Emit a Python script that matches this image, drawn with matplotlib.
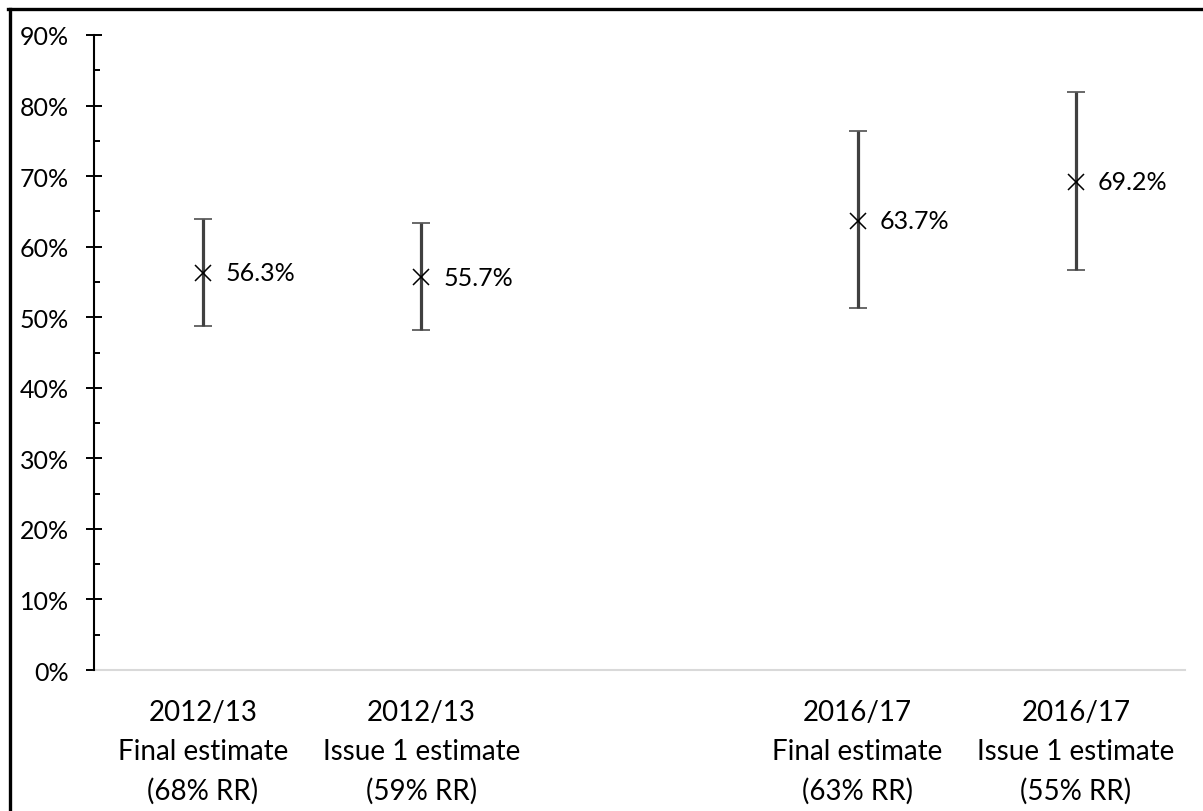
import numpy as np
import matplotlib
matplotlib.use("Agg")
import matplotlib.pyplot as plt
from matplotlib.lines import Line2D
from matplotlib.ticker import MultipleLocator, PercentFormatter

# Survey estimates with confidence intervals (empty slot separates the two years)
categories = [
    "2012/13\nFinal estimate\n(68% RR)",
    "2012/13\nIssue 1 estimate\n(59% RR)",
    "",
    "2016/17\nFinal estimate\n(63% RR)",
    "2016/17\nIssue 1 estimate\n(55% RR)",
]
estimate = [0.563, 0.557, np.nan, 0.637, 0.692]
lower = [0.488, 0.482, np.nan, 0.513, 0.567]
upper = [0.639, 0.634, np.nan, 0.764, 0.819]

plt.rcParams["font.family"] = ["Lato", "DejaVu Sans"]

fig = plt.figure(figsize=(12.03, 8.12), dpi=100)
ax = fig.add_axes([0.0781, 0.1736, 0.9069, 0.7821])

x = np.arange(len(categories))
est = np.array(estimate)
lo = np.array(lower)
hi = np.array(upper)

ax.errorbar(x, est, yerr=[est - lo, hi - est], fmt="x",
            ecolor="#404040", elinewidth=2.3, capsize=6.5, capthick=2.8,
            mec="black", mfc="black", ms=11, mew=1.1, zorder=3)

for xi, v in zip(x, est):
    if np.isnan(v):
        continue
    ax.annotate(f"{v * 100:.1f}%", (xi, v), xytext=(16, 0),
                textcoords="offset points", ha="left", va="center",
                fontsize=18, color="black")

ax.set_xlim(-0.5, len(categories) - 0.5)
ax.set_ylim(0, 0.9)
ax.yaxis.set_major_locator(MultipleLocator(0.1))
ax.yaxis.set_minor_locator(MultipleLocator(0.05))
ax.yaxis.set_major_formatter(PercentFormatter(1.0, decimals=0))

ax.set_xticks(x)
ax.set_xticklabels(categories, fontsize=20, linespacing=1.6)
ax.tick_params(axis="x", length=0, pad=21)
ax.tick_params(axis="y", which="major", direction="inout", length=12,
               width=1.4, labelsize=18, pad=12)
ax.tick_params(axis="y", which="minor", direction="in", length=4.5, width=1.4)

for side in ("top", "right"):
    ax.spines[side].set_visible(False)
ax.spines["left"].set_linewidth(1.5)
ax.spines["bottom"].set_color("#d9d9d9")
ax.spines["bottom"].set_linewidth(1.5)
ax.spines["left"].set_zorder(4)

# Outer frame along the top and left edges
W, H = 1203, 812
fig.add_artist(Line2D([9.5 / W, 9.5 / W], [0, 1 - 9.5 / H], color="black",
                      lw=2.4, transform=fig.transFigure))
fig.add_artist(Line2D([8 / W, 1], [1 - 9.5 / H, 1 - 9.5 / H], color="black",
                      lw=2.4, transform=fig.transFigure))

fig.savefig("out.png", dpi=100)
